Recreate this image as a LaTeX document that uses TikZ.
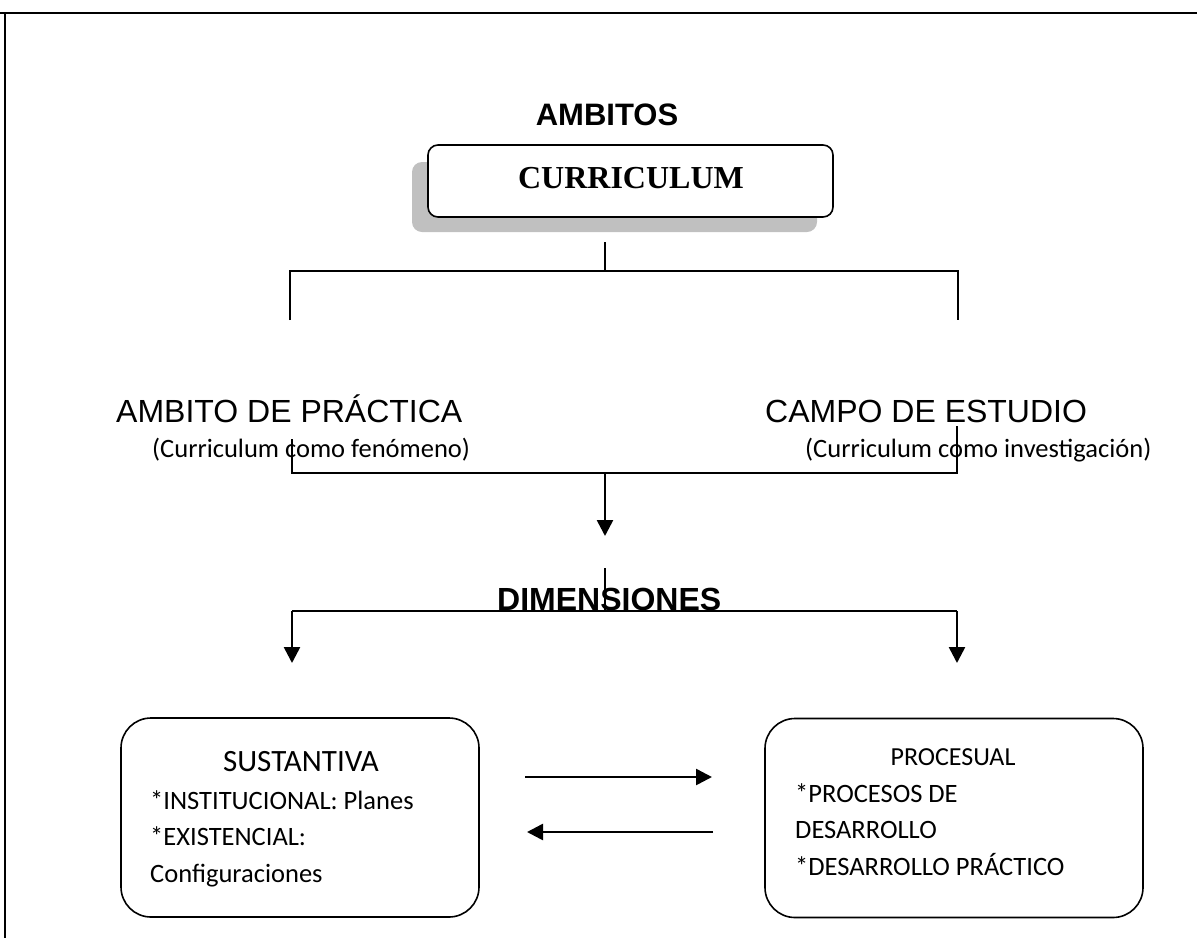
\documentclass[tikz,border=0pt]{standalone}
\usepackage{fontspec}
\setmainfont{Liberation Sans}
\newfontfamily\timesfont{Liberation Serif}
\newfontfamily\calfont{Carlito}
\usepackage{xcolor}
\usepackage{tikz}
\usetikzlibrary{arrows.meta}
\definecolor{shadow_gray}{HTML}{C0C0C0}
\tikzset{ dim_box/.style = {rectangle, rounded corners=30pt, draw, line width=1.6pt, minimum height=199pt} }
\tikzset{ txt/.style = {inner sep=0pt} }
\tikzset{ link/.style = {line width=2.2pt} }
\tikzset{ flow/.style = {line width=2.6pt, -{Triangle[length=16pt,width=16pt]}} }

\begin{document}
\begin{tikzpicture}[x=1pt,y=-1pt]
            \useasboundingbox (0,0) rectangle (1197,938);
            \draw[line width=2.6pt] (0,13) -- (1197,13);
            \draw[line width=1.8pt] (5,12) -- (5,938);
            % ambitos
                \node [style=txt, anchor=base] (amb) at (607,125) {\fontsize{31}{36}\selectfont\bfseries AMBITOS};
                \fill [shadow_gray, rounded corners=10pt] (412,162) rectangle (817,232);
                \node [draw, fill=white, rounded corners=10pt, line width=1.6pt, minimum width=405pt, minimum height=72pt] (curr) at (630.5,181) {};
                \node [style=txt, anchor=base] (curr_txt) at (631,188) {\timesfont\fontsize{32}{38}\selectfont\bfseries CURRICULUM};
                \node [style=txt, anchor=base west] (prac) at (116,422) {\fontsize{32}{38}\selectfont AMBITO DE PRÁCTICA};
                \node [style=txt, anchor=base west] (prac_sub) at (152,457) {\calfont\fontsize{26.5}{32}\selectfont (Curriculum como fenómeno)};
                \node [style=txt, anchor=base west] (campo) at (765,422) {\fontsize{32}{38}\selectfont CAMPO DE ESTUDIO};
                \node [style=txt, anchor=base west] (campo_sub) at (805,457) {\calfont\fontsize{26.5}{32}\selectfont (Curriculum como investigación)};
            % dimensiones
                \node [style=txt, anchor=base west] (dim) at (497,610) {\fontsize{32}{38}\selectfont\bfseries DIMENSIONES};
                \node [style=dim_box, minimum width=358pt] (sust) at (300,817.5) {};
                \node [style=dim_box, minimum width=378pt] (proc) at (954,818) {};
                \node [style=txt, anchor=base] (sust_t) at (301,771) {\calfont\fontsize{31}{36}\selectfont SUSTANTIVA};
                \node [style=txt, anchor=base west] (sust_a) at (150,809) {\calfont\fontsize{26.5}{31}\selectfont *INSTITUCIONAL: Planes};
                \node [style=txt, anchor=base west] (sust_b) at (150,845) {\calfont\fontsize{26.5}{31}\selectfont *EXISTENCIAL:};
                \node [style=txt, anchor=base west] (sust_c) at (150,882) {\calfont\fontsize{26.5}{31}\selectfont Configuraciones};
                \node [style=txt, anchor=base] (proc_t) at (953,765) {\calfont\fontsize{26}{31}\selectfont PROCESUAL};
                \node [style=txt, anchor=base west] (proc_a) at (795,802) {\calfont\fontsize{26.5}{31}\selectfont *PROCESOS DE};
                \node [style=txt, anchor=base west] (proc_b) at (795,838) {\calfont\fontsize{26.5}{31}\selectfont DESARROLLO};
                \node [style=txt, anchor=base west] (proc_c) at (795,875) {\calfont\fontsize{26.5}{31}\selectfont *DESARROLLO PRÁCTICO};
            % brackets
                \coordinate (top_stub) at (605,242);
                \coordinate (top_mid) at (605,271);
                \coordinate (top_l) at (290,271);
                \coordinate (top_r) at (958,271);
                \coordinate (top_l_end) at (290,320);
                \coordinate (top_r_end) at (958,320);
                \draw[style=link] (top_stub) to (top_mid);
                \draw[style=link] (top_l_end) -- (top_l) -- (top_r) -- (top_r_end);
                \coordinate (mid_l_top) at (292,439);
                \coordinate (mid_r_top) at (957,426);
                \coordinate (mid_l) at (292,473);
                \coordinate (mid_r) at (957,473);
                \coordinate (mid_c) at (605,473);
                \coordinate (mid_tip) at (605,536);
                \draw[style=link] (mid_l_top) -- (mid_l) -- (mid_r) -- (mid_r_top);
                \draw[style=flow] (mid_c) to (mid_tip);
                \coordinate (dim_stub) at (605,568);
                \coordinate (dim_c) at (605,611);
                \coordinate (dim_l) at (292,611);
                \coordinate (dim_r) at (957,611);
                \coordinate (sust_tip) at (292,663);
                \coordinate (proc_tip) at (957,663);
                \draw[style=link] (dim_stub) to (dim_c);
                \draw[style=link] (dim_l) to (dim_r);
                \draw[style=flow] (dim_l) to (sust_tip);
                \draw[style=flow] (dim_r) to (proc_tip);
            % between the boxes
                \coordinate (go_a) at (525,777);
                \coordinate (go_b) at (712,777);
                \coordinate (back_a) at (713,832);
                \coordinate (back_b) at (527,832);
                \draw[style=flow] (go_a) to (go_b);
                \draw[style=flow] (back_a) to (back_b);
        \end{tikzpicture}
\end{document}
